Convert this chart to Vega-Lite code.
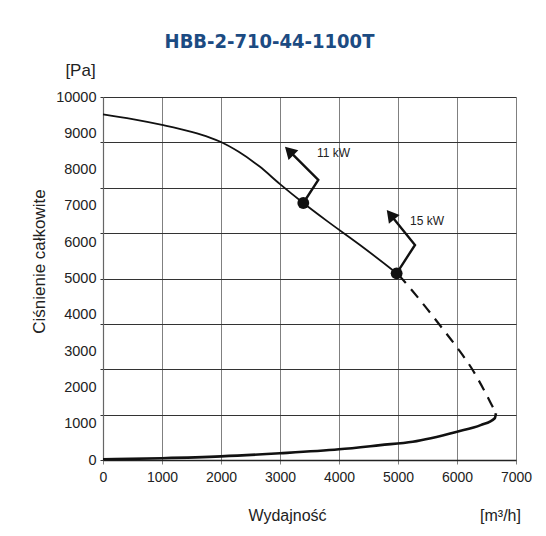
{
  "$schema": "https://vega.github.io/schema/vega-lite/v6.json",
  "width": 413,
  "height": 363,
  "autosize": {"type": "none"},
  "padding": {"left": 103, "top": 97, "right": 30, "bottom": 76},
  "background": "white",
  "title": {
    "text": "HBB-2-710-44-1100T",
    "font": "DejaVu Sans Condensed, Liberation Sans",
    "fontSize": 20,
    "fontWeight": "bold",
    "color": "#1c4b82",
    "anchor": "middle",
    "frame": "group",
    "dx": -40,
    "offset": 9
  },
  "datasets": {
    "curves": [
      {"curve": "upper", "q": 0, "p": 9520},
      {"curve": "upper", "q": 500, "p": 9390},
      {"curve": "upper", "q": 1000, "p": 9230},
      {"curve": "upper", "q": 1500, "p": 9040},
      {"curve": "upper", "q": 1800, "p": 8890},
      {"curve": "upper", "q": 2000, "p": 8760},
      {"curve": "upper", "q": 2300, "p": 8490},
      {"curve": "upper", "q": 2650, "p": 8090},
      {"curve": "upper", "q": 3000, "p": 7600},
      {"curve": "upper", "q": 3395, "p": 7080},
      {"curve": "upper", "q": 3800, "p": 6580},
      {"curve": "upper", "q": 4350, "p": 5930},
      {"curve": "upper", "q": 4977, "p": 5143},
      {"curve": "upper", "q": 5010, "p": 5100},
      {"curve": "dashed", "q": 5010, "p": 5100},
      {"curve": "dashed", "q": 5250, "p": 4650},
      {"curve": "dashed", "q": 5500, "p": 4150},
      {"curve": "dashed", "q": 5750, "p": 3630},
      {"curve": "dashed", "q": 6000, "p": 3100},
      {"curve": "dashed", "q": 6250, "p": 2520},
      {"curve": "dashed", "q": 6450, "p": 1950},
      {"curve": "dashed", "q": 6600, "p": 1480},
      {"curve": "dashed", "q": 6660, "p": 1290},
      {"curve": "lower", "q": 0, "p": 20},
      {"curve": "lower", "q": 1000, "p": 50},
      {"curve": "lower", "q": 2000, "p": 100},
      {"curve": "lower", "q": 3000, "p": 185},
      {"curve": "lower", "q": 4000, "p": 295},
      {"curve": "lower", "q": 4700, "p": 410},
      {"curve": "lower", "q": 5250, "p": 505},
      {"curve": "lower", "q": 6000, "p": 780},
      {"curve": "lower", "q": 6400, "p": 960},
      {"curve": "lower", "q": 6640, "p": 1150},
      {"curve": "lower", "q": 6660, "p": 1290}
    ],
    "points": [
      {"power": "11 kW", "q": 3395, "p": 7080},
      {"power": "15 kW", "q": 4977, "p": 5143}
    ],
    "arrows": [
      {"power": "11 kW", "step": 1, "q": 3395, "p": 7080},
      {"power": "11 kW", "step": 2, "q": 3649, "p": 7713},
      {"power": "11 kW", "step": 3, "q": 3156, "p": 8515},
      {"power": "15 kW", "step": 1, "q": 4977, "p": 5143},
      {"power": "15 kW", "step": 2, "q": 5288, "p": 5923},
      {"power": "15 kW", "step": 3, "q": 4873, "p": 6757}
    ],
    "heads": [
      {"power": "11 kW", "q": 3156, "p": 8515},
      {"power": "15 kW", "q": 4873, "p": 6757}
    ],
    "labels": [
      {"power": "11 kW", "q": 3627, "p": 8457},
      {"power": "15 kW", "q": 5203, "p": 6584}
    ]
  },
  "resolve": {"axis": {"x": "independent", "y": "independent"}},
  "layer": [
    {
      "data": {"name": "curves"},
      "transform": [{"filter": "datum.curve === 'upper'"}],
      "mark": {"type": "line", "color": "#111", "strokeWidth": 1.8, "interpolate": "monotone"},
      "encoding": {
        "x": {
          "field": "q", "type": "quantitative",
          "scale": {"domain": [0, 7000], "nice": false},
          "axis": {
            "orient": "bottom",
            "values": [0, 1000, 2000, 3000, 4000, 5000, 6000, 7000],
            "format": "d",
            "grid": true, "gridColor": "#808080", "gridWidth": 1,
            "ticks": true, "tickColor": "#808080", "tickSize": 4,
            "domainColor": "#222", "domainWidth": 1.3,
            "labelPadding": 6, "labelFlush": false,
            "title": "Wydajność", "titleX": 184, "titleY": 60,
            "titleBaseline": "alphabetic", "titleAlign": "center"
          }
        },
        "y": {
          "field": "p", "type": "quantitative",
          "scale": {"domain": [0, 10000], "nice": false},
          "axis": {
            "orient": "left",
            "values": [0, 1250, 2500, 3750, 5000, 6250, 7500, 8750, 10000],
            "grid": true, "gridColor": "#333", "gridWidth": 1.2,
            "ticks": true, "tickColor": "#333", "tickSize": 3,
            "labels": false,
            "domainColor": "#666", "domainWidth": 1.2,
            "title": "[Pa]", "titleAngle": 0, "titleX": -23, "titleY": -22,
            "titleBaseline": "alphabetic", "titleAlign": "center", "titleFontSize": 17
          }
        }
      }
    },
    {
      "data": {"name": "points"},
      "mark": {"type": "point", "shape": "circle", "filled": true, "color": "#111", "size": 140, "opacity": 1},
      "encoding": {
        "x": {
          "field": "q", "type": "quantitative",
          "scale": {"domain": [0, 7000], "nice": false},
          "axis": {
            "orient": "bottom", "labels": false, "ticks": false, "grid": false, "domain": false,
            "title": "[m³/h]", "titleX": 397, "titleY": 60,
            "titleBaseline": "alphabetic", "titleAlign": "center"
          }
        },
        "y": {
          "field": "p", "type": "quantitative",
          "scale": {"domain": [0, 10000], "nice": false},
          "axis": {
            "orient": "left",
            "values": [0, 1000, 2000, 3000, 4000, 5000, 6000, 7000, 8000, 9000, 10000],
            "format": "d",
            "labels": true, "ticks": false, "grid": false, "domain": false,
            "labelPadding": 7, "labelFontSize": 14.5,
            "title": "Ciśnienie całkowite", "titleAngle": -90, "titleX": -64, "titleY": 164,
            "titleBaseline": "middle", "titleAlign": "center", "titleFontSize": 17
          }
        }
      }
    },
    {
      "data": {"name": "curves"},
      "transform": [{"filter": "datum.curve === 'dashed'"}],
      "mark": {"type": "line", "color": "#111", "strokeWidth": 2.2, "strokeDash": [11, 8], "interpolate": "monotone"},
      "encoding": {
        "x": {"field": "q", "type": "quantitative", "axis": null},
        "y": {"field": "p", "type": "quantitative", "axis": null}
      }
    },
    {
      "data": {"name": "curves"},
      "transform": [{"filter": "datum.curve === 'lower'"}],
      "mark": {"type": "line", "color": "#111", "strokeWidth": 2.6, "interpolate": "monotone"},
      "encoding": {
        "x": {"field": "q", "type": "quantitative", "axis": null},
        "y": {"field": "p", "type": "quantitative", "axis": null}
      }
    },
    {
      "data": {"name": "arrows"},
      "mark": {"type": "line", "color": "#111", "strokeWidth": 2.4, "strokeJoin": "miter"},
      "encoding": {
        "x": {"field": "q", "type": "quantitative", "axis": null},
        "y": {"field": "p", "type": "quantitative", "axis": null},
        "detail": {"field": "power"},
        "order": {"field": "step"}
      }
    },
    {
      "data": {"name": "heads"},
      "transform": [{"filter": "datum.power === '11 kW'"}],
      "mark": {"type": "point", "shape": "triangle-up", "filled": true, "color": "#111", "size": 190, "angle": -45, "opacity": 1},
      "encoding": {
        "x": {"field": "q", "type": "quantitative", "axis": null},
        "y": {"field": "p", "type": "quantitative", "axis": null}
      }
    },
    {
      "data": {"name": "heads"},
      "transform": [{"filter": "datum.power === '15 kW'"}],
      "mark": {"type": "point", "shape": "triangle-up", "filled": true, "color": "#111", "size": 190, "angle": -39, "opacity": 1},
      "encoding": {
        "x": {"field": "q", "type": "quantitative", "axis": null},
        "y": {"field": "p", "type": "quantitative", "axis": null}
      }
    },
    {
      "data": {"name": "labels"},
      "mark": {"type": "text", "align": "left", "baseline": "middle", "font": "Liberation Sans", "fontSize": 12, "color": "#222"},
      "encoding": {
        "x": {"field": "q", "type": "quantitative", "axis": null},
        "y": {"field": "p", "type": "quantitative", "axis": null},
        "text": {"field": "power"}
      }
    }
  ],
  "config": {
    "view": {"stroke": null},
    "axis": {
      "labelFont": "Liberation Sans",
      "titleFont": "Liberation Sans",
      "labelFontSize": 14,
      "titleFontSize": 16,
      "titleFontWeight": "normal",
      "labelColor": "#222",
      "titleColor": "#222"
    }
  }
}
